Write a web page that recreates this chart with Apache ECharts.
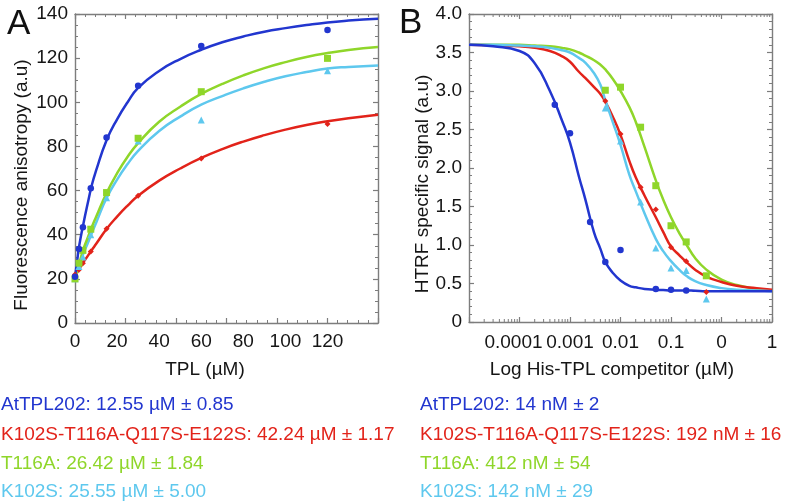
<!DOCTYPE html>
<html>
<head>
<meta charset="utf-8">
<script src="https://cdn.jsdelivr.net/npm/echarts@6/dist/echarts.min.js"></script>
<style>
html,body{margin:0;padding:0;background:#fff;}
#chart{width:793px;height:504px;}
</style>
</head>
<body>
<div id="chart"></div>
<script>
// ---------- Panel A data (TPL, µM) ----------
var xPtsA = [0, 1.875, 3.75, 7.5, 15, 30, 60, 120];
var bluePtsA = [21, 33.5, 43.4, 61.1, 84.0, 107.5, 125.5, 132.7];
var redPtsA = [22, 24.1, 27.1, 32.4, 42.7, 57.6, 74.5, 90.2];
var greenPtsA = [20, 27.1, 32.9, 42.5, 59.1, 83.7, 104.8, 119.9];
var cyanPtsA = [20, 25.6, 29.9, 40, 56.8, 82.5, 92, 114.3];

var xCurveA = [0, 1, 2, 4, 6, 8, 10, 15, 20, 25, 30, 40, 50, 60, 70, 80, 90, 100, 110, 120, 130, 144];
var blueCurveA = [20.5, 28, 35, 45, 54, 62.5, 69, 82.8, 92.3, 100, 106.5, 114.2, 119.6, 123.8, 127.2, 129.8, 132, 133.6, 135, 136.2, 137, 137.8];
var redCurveA = [21, 22.8, 24.5, 27.5, 30.3, 33.1, 35.8, 42.6, 48.2, 53.2, 57.7, 64.5, 70, 74.8, 78.8, 82.2, 85.1, 87.6, 89.7, 91.4, 92.8, 94.4];
var greenCurveA = [20, 23.5, 27, 33.5, 38.5, 43.5, 48, 58.9, 67.8, 75.3, 81.5, 91.2, 98.0, 103.8, 108.3, 112.2, 115.5, 118.2, 120.5, 122.3, 123.7, 125];
var cyanCurveA = [20, 23, 26, 31.5, 36, 40.8, 45.3, 56.6, 65, 72, 78, 87, 93.5, 98.9, 102.8, 106.3, 109.3, 111.8, 113.7, 115.3, 116, 116.7];

var xTickLabelsA = ['0', '20', '40', '60', '80', '100', '120'];
var yTickLabelsA = ['0', '20', '40', '60', '80', '100', '120', '140'];

// ---------- Panel B data (His-TPL competitor, µM) ----------
var blueXB = [0.0005, 0.001, 0.0025, 0.005, 0.01, 0.05, 0.1, 0.2];
var blueYB = [2.82, 2.45, 1.30, 0.78, 0.935, 0.43, 0.42, 0.41];
var redXB = [0.005, 0.01, 0.025, 0.05, 0.1, 0.2, 0.5];
var redYB = [2.87, 2.44, 1.75, 1.46, 0.97, 0.79, 0.39];
var greenXB = [0.005, 0.01, 0.025, 0.05, 0.1, 0.2, 0.5];
var greenYB = [3.01, 3.05, 2.53, 1.77, 1.25, 1.04, 0.60];
var cyanXB = [0.005, 0.01, 0.025, 0.05, 0.1, 0.2, 0.5];
var cyanYB = [2.78, 2.35, 1.56, 0.96, 0.70, 0.67, 0.30];

var xCurveB = [1e-5, 3e-5, 1e-4, 2e-4, 4e-4, 7e-4, 1e-3, 1.5e-3, 2e-3, 3e-3, 4e-3, 5e-3, 7e-3, 1e-2, 1.5e-2, 2e-2, 3e-2, 5e-2, 7e-2, 0.1, 0.15, 0.2, 0.3, 0.5, 1, 2, 5, 10];
var blueCurveB = [3.60, 3.58, 3.52, 3.36, 3.00, 2.61, 2.33, 1.89, 1.60, 1.16, 0.95, 0.78, 0.64, 0.54, 0.47, 0.45, 0.43, 0.42, 0.415, 0.41, 0.41, 0.41, 0.405, 0.40, 0.40, 0.40, 0.40, 0.40];
var redCurveB = [3.60, 3.595, 3.58, 3.56, 3.52, 3.45, 3.38, 3.25, 3.17, 3.05, 2.96, 2.86, 2.67, 2.43, 2.09, 1.88, 1.64, 1.36, 1.17, 0.98, 0.86, 0.78, 0.68, 0.59, 0.52, 0.47, 0.44, 0.42];
var greenCurveB = [3.60, 3.60, 3.60, 3.59, 3.58, 3.56, 3.54, 3.50, 3.46, 3.40, 3.34, 3.28, 3.16, 3.00, 2.79, 2.60, 2.27, 1.84, 1.59, 1.36, 1.14, 1.01, 0.83, 0.68, 0.55, 0.48, 0.43, 0.41];
var cyanCurveB = [3.60, 3.60, 3.59, 3.58, 3.56, 3.53, 3.50, 3.43, 3.37, 3.23, 3.08, 2.88, 2.60, 2.30, 1.91, 1.70, 1.41, 1.08, 0.92, 0.79, 0.67, 0.60, 0.53, 0.48, 0.44, 0.42, 0.41, 0.40];

var xTickValuesB = [1e-5, 1e-4, 1e-3, 1e-2, 1e-1, 1, 10];
var xTickLabelsB = ['', '0.0001', '0.001', '0.01', '0.1', '0', '1'];
var yTickLabelsB = ['0', '0.5', '1.0', '1.5', '2.0', '2.5', '3.0', '3.5', '4.0'];

// ---------- Texts ----------
var panelLabels = ['A', 'B'];
var axisNames = {
  ay: 'Fluorescence anisotropy (a.u)', ax: 'TPL (µM)',
  by: 'HTRF specific signal (a.u)', bx: 'Log His-TPL competitor (µM)'
};
var statsA = ['AtTPL202: 12.55 µM ± 0.85', 'K102S-T116A-Q117S-E122S: 42.24 µM ± 1.17', 'T116A: 26.42 µM ± 1.84', 'K102S: 25.55 µM ± 5.00'];
var statsB = ['AtTPL202: 14 nM ± 2', 'K102S-T116A-Q117S-E122S: 192 nM ± 16', 'T116A: 412 nM ± 54', 'K102S: 142 nM ± 29'];

// ---------- Style ----------
var FONT = '"Liberation Sans", Arial, Helvetica, sans-serif';
var C_BLUE = '#2236cf', C_RED = '#e2231a', C_GREEN = '#8fd62a', C_CYAN = '#5ec8ee';
var colors = [C_BLUE, C_RED, C_GREEN, C_CYAN];
var AX = '#7d7d7d';

function zip(xs, ys) { return xs.map(function (x, i) { return [x, ys[i]]; }); }

function frameAxis(extra) {
  var o = {
    axisLine: { show: true, onZero: false, lineStyle: { color: AX, width: 1.4 } },
    axisTick: { show: true, inside: true, length: 5, lineStyle: { color: AX, width: 1.2 } },
    splitLine: { show: false },
    axisLabel: { show: false }
  };
  for (var k in extra) o[k] = extra[k];
  return o;
}

var chart = echarts.init(document.getElementById('chart'), null, { renderer: 'canvas' });

var minorLogTicks = [];
for (var e = -5; e < 1; e++) {
  for (var k = 2; k <= 9; k++) minorLogTicks.push([k * Math.pow(10, e), 0]);
}

var graphics = [];
graphics.push({ type: 'text', left: 7, top: 7, style: { text: panelLabels[0], fontSize: 35, fontFamily: FONT, fill: '#111' } });
graphics.push({ type: 'text', left: 399, top: 6, style: { text: panelLabels[1], fontSize: 35, fontFamily: FONT, fill: '#111' } });
graphics.push({ type: 'text', x: 22, y: 185, rotation: Math.PI / 2, style: { text: axisNames.ay, fontSize: 19, fontFamily: FONT, fill: '#151515', align: 'center', verticalAlign: 'middle' } });
graphics.push({ type: 'text', x: 423, y: 184, rotation: Math.PI / 2, style: { text: axisNames.by, fontSize: 19, fontFamily: FONT, fill: '#151515', align: 'center', verticalAlign: 'middle' } });
graphics.push({ type: 'text', x: 205, y: 370, style: { text: axisNames.ax, fontSize: 19, fontFamily: FONT, fill: '#151515', align: 'center', verticalAlign: 'middle' } });
graphics.push({ type: 'text', x: 612, y: 370, style: { text: axisNames.bx, fontSize: 19, fontFamily: FONT, fill: '#151515', align: 'center', verticalAlign: 'middle' } });
var lineYs = [405, 435, 464, 492];
statsA.forEach(function (t, i) {
  graphics.push({ type: 'text', x: 1, y: lineYs[i], style: { text: t, fontSize: 19, fontFamily: FONT, fill: colors[i], align: 'left', verticalAlign: 'middle' } });
});
statsB.forEach(function (t, i) {
  graphics.push({ type: 'text', x: 420, y: lineYs[i], style: { text: t, fontSize: 19, fontFamily: FONT, fill: colors[i], align: 'left', verticalAlign: 'middle' } });
});

var option = {
  animation: false,
  backgroundColor: '#ffffff',
  textStyle: { fontFamily: FONT },
  grid: [
    { left: 75, top: 14, width: 303, height: 309, containLabel: false },
    { left: 469, top: 14, width: 303, height: 308, containLabel: false }
  ],
  xAxis: [
    frameAxis({ type: 'value', gridIndex: 0, position: 'bottom', min: 0, max: 144, interval: 24,
      minorTick: { show: true, splitNumber: 5, length: 3, lineStyle: { color: AX, width: 1 } } }),
    frameAxis({ type: 'value', gridIndex: 0, position: 'top', min: 0, max: 144, interval: 24,
      minorTick: { show: true, splitNumber: 5, length: 3, lineStyle: { color: AX, width: 1 } } }),
    { type: 'value', gridIndex: 0, position: 'bottom', min: 0, max: 144, interval: 20,
      axisLine: { show: false }, axisTick: { show: false }, splitLine: { show: false },
      axisLabel: { show: true, margin: 9, color: '#151515', fontSize: 19, fontFamily: FONT,
        showMaxLabel: false,
        formatter: function (v) { var i = Math.round(v / 20); return (i < xTickLabelsA.length && Math.abs(v - i * 20) < 1e-6) ? xTickLabelsA[i] : ''; } } },
    frameAxis({ type: 'log', logBase: 10, gridIndex: 1, position: 'bottom', min: 1e-5, max: 10,
      axisLabel: { show: true, margin: 11, color: '#151515', fontSize: 19, fontFamily: FONT,
        showMinLabel: true, showMaxLabel: true,
        formatter: function (v) {
          for (var i = 0; i < xTickValuesB.length; i++) {
            if (Math.abs(Math.log10(v) - Math.log10(xTickValuesB[i])) < 1e-6) {
              return i === 1 ? '{s|' + xTickLabelsB[i] + '}' : xTickLabelsB[i];
            }
          }
          return '';
        },
        rich: { s: { fontSize: 19, fontFamily: FONT, color: '#151515', padding: [0, 12, 0, 0] } } } }),
    frameAxis({ type: 'log', logBase: 10, gridIndex: 1, position: 'top', min: 1e-5, max: 10 })
  ],
  yAxis: [
    frameAxis({ type: 'value', gridIndex: 0, position: 'left', min: 0, max: 140, interval: 20,
      minorTick: { show: true, splitNumber: 4, length: 3, lineStyle: { color: AX, width: 1 } },
      axisLabel: { show: true, margin: 7, color: '#151515', fontSize: 19, fontFamily: FONT,
        formatter: function (v) { return yTickLabelsA[Math.round(v / 20)]; } } }),
    frameAxis({ type: 'value', gridIndex: 0, position: 'right', min: 0, max: 140, interval: 20,
      minorTick: { show: true, splitNumber: 4, length: 3, lineStyle: { color: AX, width: 1 } } }),
    frameAxis({ type: 'value', gridIndex: 1, position: 'left', min: 0, max: 4, interval: 0.5,
      minorTick: { show: true, splitNumber: 5, length: 3, lineStyle: { color: AX, width: 1 } },
      axisLabel: { show: true, margin: 7, color: '#151515', fontSize: 19, fontFamily: FONT,
        formatter: function (v) { return yTickLabelsB[Math.round(v / 0.5)]; } } }),
    frameAxis({ type: 'value', gridIndex: 1, position: 'right', min: 0, max: 4, interval: 0.5,
      minorTick: { show: true, splitNumber: 5, length: 3, lineStyle: { color: AX, width: 1 } } })
  ],
  graphic: graphics,
  series: []
};

function lineSeries(xi, yi, data, color) {
  return { type: 'line', xAxisIndex: xi, yAxisIndex: yi, data: data, smooth: 0.5,
    showSymbol: false, symbol: 'none', lineStyle: { color: color, width: 2.5 }, z: 3, silent: true };
}
function scatterSeries(xi, yi, data, color, symbol, size) {
  return { type: 'scatter', xAxisIndex: xi, yAxisIndex: yi, data: data, symbol: symbol, symbolSize: size,
    itemStyle: { color: color, opacity: 1 }, z: 4, silent: true };
}

// Panel A
option.series.push(lineSeries(0, 0, zip(xCurveA, redCurveA), C_RED));
option.series.push(lineSeries(0, 0, zip(xCurveA, cyanCurveA), C_CYAN));
option.series.push(lineSeries(0, 0, zip(xCurveA, greenCurveA), C_GREEN));
option.series.push(lineSeries(0, 0, zip(xCurveA, blueCurveA), C_BLUE));
option.series.push(scatterSeries(0, 0, zip(xPtsA, redPtsA), C_RED, 'diamond', 6));
option.series.push(scatterSeries(0, 0, zip(xPtsA, cyanPtsA), C_CYAN, 'triangle', 7));
option.series.push(scatterSeries(0, 0, zip(xPtsA, greenPtsA), C_GREEN, 'rect', 7));
option.series.push(scatterSeries(0, 0, zip(xPtsA, bluePtsA), C_BLUE, 'circle', 6.5));

// Panel B
option.series.push(lineSeries(3, 2, zip(xCurveB, greenCurveB), C_GREEN));
option.series.push(lineSeries(3, 2, zip(xCurveB, redCurveB), C_RED));
option.series.push(lineSeries(3, 2, zip(xCurveB, cyanCurveB), C_CYAN));
option.series.push(lineSeries(3, 2, zip(xCurveB, blueCurveB), C_BLUE));
option.series.push(scatterSeries(3, 2, zip(greenXB, greenYB), C_GREEN, 'rect', 7));
option.series.push(scatterSeries(3, 2, zip(redXB, redYB), C_RED, 'diamond', 6));
option.series.push(scatterSeries(3, 2, zip(cyanXB, cyanYB), C_CYAN, 'triangle', 7));
option.series.push(scatterSeries(3, 2, zip(blueXB, blueYB), C_BLUE, 'circle', 6.5));

// Log minor ticks for panel B (bottom and top edges)
option.series.push({
  type: 'custom', xAxisIndex: 3, yAxisIndex: 2, data: minorLogTicks, silent: true, clip: false, z: 5,
  renderItem: function (params, api) {
    var v = api.value(0);
    var pb = api.coord([v, 0]);
    var pt = api.coord([v, 4]);
    return { type: 'group', children: [
      { type: 'line', shape: { x1: pb[0], y1: pb[1], x2: pb[0], y2: pb[1] - 3 }, style: { stroke: AX, lineWidth: 1 } },
      { type: 'line', shape: { x1: pt[0], y1: pt[1], x2: pt[0], y2: pt[1] + 3 }, style: { stroke: AX, lineWidth: 1 } }
    ] };
  }
});

chart.setOption(option);
</script>
</body>
</html>
